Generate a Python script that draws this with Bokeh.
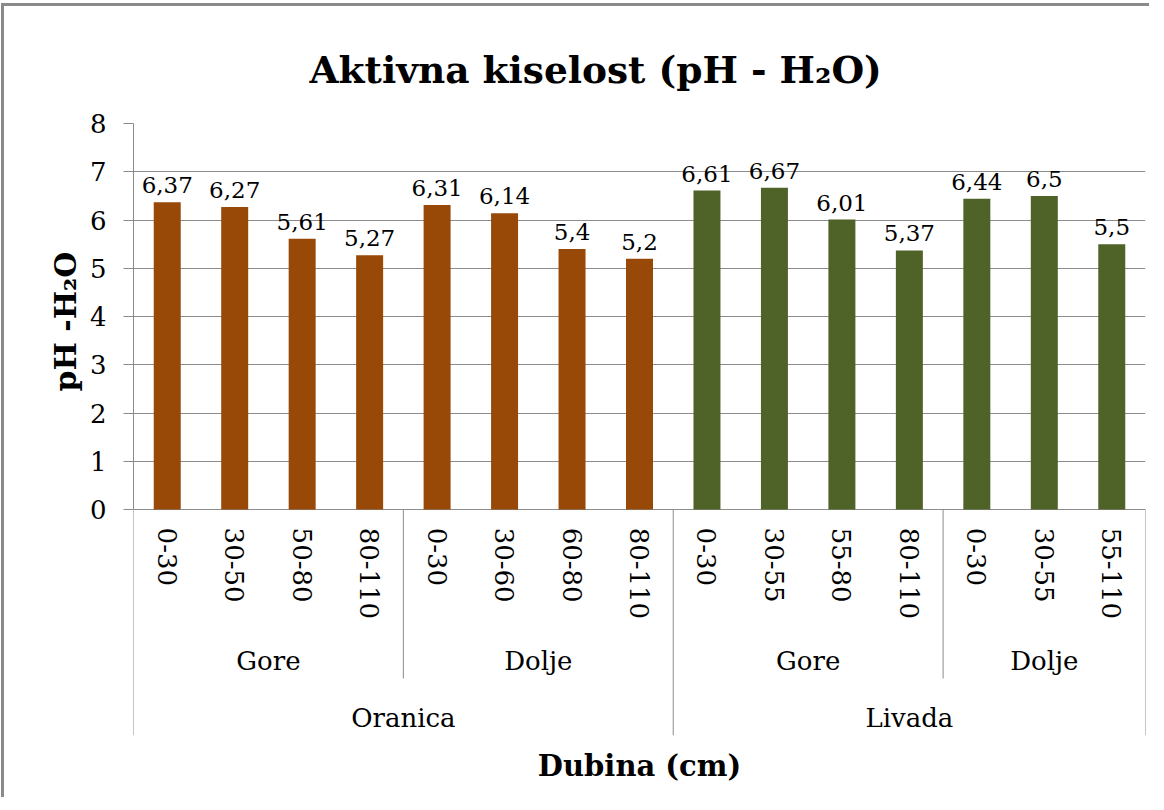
from bokeh.plotting import figure
from bokeh.models import FactorRange, Range1d, FixedTicker, ColumnDataSource, Title
from bokeh.core.properties import value
from bokeh.embed import file_html
from bokeh.resources import INLINE

# ---- data ----
land_use = ["Oranica", "Oranica", "Oranica", "Oranica", "Oranica", "Oranica", "Oranica", "Oranica",
            "Livada", "Livada", "Livada", "Livada", "Livada", "Livada", "Livada"]
position = ["Gore", "Gore", "Gore", "Gore", "Dolje", "Dolje", "Dolje", "Dolje",
            "Gore", "Gore", "Gore", "Gore", "Dolje", "Dolje", "Dolje"]
depth = ["0-30", "30-50", "50-80", "80-110", "0-30", "30-60", "60-80", "80-110",
         "0-30", "30-55", "55-80", "80-110", "0-30", "30-55", "55-110"]
ph_h2o = [6.37, 6.27, 5.61, 5.27, 6.31, 6.14, 5.4, 5.2,
          6.61, 6.67, 6.01, 5.37, 6.44, 6.5, 5.5]
y_ticks = [0, 1, 2, 3, 4, 5, 6, 7, 8]

colors_by_use = {"Oranica": "#984807", "Livada": "#4F6228"}

factors = [(a, b, c) for a, b, c in zip(land_use, position, depth)]
labels = [("%g" % v).replace(".", ",") for v in ph_h2o]

src = ColumnDataSource(dict(x=factors, top=ph_h2o, lab=labels,
                            color=[colors_by_use[u] for u in land_use]))

SERIF = "DejaVu Serif"
GRAY = "#8c8c8c"
Y_BOTTOM = -4.68

p = figure(width=1148, height=794,
           x_range=FactorRange(*factors, factor_padding=0, subgroup_padding=0,
                               group_padding=0, range_padding=0),
           y_range=Range1d(Y_BOTTOM, 8),
           output_backend="svg", toolbar_location=None, tools="",
           min_border_left=129, min_border_right=7, min_border_top=117,
           min_border_bottom=65)

p.title.text = "Aktivna kiselost (pH - H\u2082O)"
p.title.text_font = SERIF
p.title.text_font_size = "37.5px"
p.title.text_font_style = "bold"
p.title.align = "left"
p.title.offset = 176
p.title.text_color = "black"
p.title.standoff = 63

p.add_layout(Title(text="Dubina (cm)", align="center", text_font=SERIF,
                   text_font_size="29px", text_font_style="bold",
                   text_color="black", standoff=22), "below")

p.outline_line_color = None
p.background_fill_color = "white"
p.border_fill_color = "white"
p.styles = {"border-left": "3px solid #8a8a8a", "border-top": "3px solid #8a8a8a",
            "margin-left": "1px", "margin-top": "3px"}

# grid
p.xgrid.grid_line_color = None
p.ygrid.grid_line_color = GRAY
p.ygrid.ticker = FixedTicker(ticks=y_ticks)

# y axis
ya = p.yaxis[0]
ya.ticker = FixedTicker(ticks=y_ticks)
ya.bounds = (y_ticks[0], y_ticks[-1])
ya.major_label_text_font = SERIF
ya.major_label_text_font_size = "26px"
ya.major_label_text_color = "black"
ya.major_label_standoff = 17
ya.axis_line_color = GRAY
ya.major_tick_line_color = GRAY
ya.major_tick_out = 10
ya.major_tick_in = 0
ya.minor_tick_line_color = None

# y axis title, placed alongside the 0-8 span
p.add_layout(Title(text="pH -H\u2082O", align="left", offset=344, text_font=SERIF,
                   text_font_size="30px", text_font_style="bold",
                   text_color="black", standoff=8), "left")

# x axis (hierarchical); the y=0 grid line serves as its line
xa = p.xaxis[0]
xa.fixed_location = 0.124
xa.axis_line_color = None
xa.major_tick_line_color = None
xa.major_tick_out = 0
xa.major_tick_in = 0
xa.minor_tick_line_color = None
xa.separator_line_color = None
xa.major_label_orientation = "vertical"
xa.major_label_standoff = 24
xa.major_label_text_font = SERIF
xa.major_label_text_font_size = "26px"
xa.major_label_text_color = "black"
xa.subgroup_text_font = SERIF
xa.subgroup_text_font_size = "26px"
xa.subgroup_text_font_style = "normal"
xa.subgroup_text_color = "black"
xa.group_text_font = SERIF
xa.group_text_font_size = "26px"
xa.group_text_font_style = "normal"
xa.group_text_color = "black"

# bars
p.vbar(x="x", top="top", width=0.4, fill_color="color", line_color=None, source=src)

# data labels
p.text(x="x", y="top", text="lab", source=src, text_align="center",
       text_baseline="alphabetic", y_offset=-17, text_font=value(SERIF),
       text_font_size="23px", text_color="black")

# group separators (derived from the category structure)
sub_bounds = []
grp_bounds = [0]
for i in range(1, len(factors)):
    if land_use[i] != land_use[i - 1]:
        grp_bounds.append(i)
    elif position[i] != position[i - 1]:
        sub_bounds.append(i)
grp_bounds.append(len(factors))
p.segment(x0=sub_bounds, x1=sub_bounds, y0=[0] * len(sub_bounds),
          y1=[-3.5] * len(sub_bounds), line_color=GRAY, line_width=1)
p.segment(x0=grp_bounds, x1=grp_bounds, y0=[0] * len(grp_bounds),
          y1=[Y_BOTTOM] * len(grp_bounds), line_color=GRAY, line_width=1)

open("out.html", "w").write(file_html(p, INLINE))
